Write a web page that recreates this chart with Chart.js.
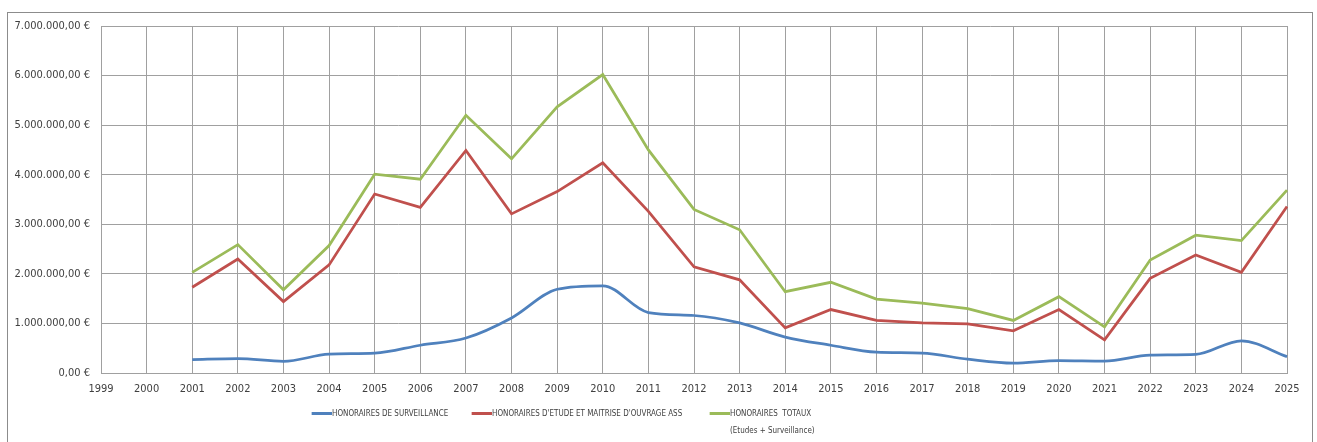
<!DOCTYPE html>
<html>
<head>
<meta charset="utf-8">
<script src="https://cdn.jsdelivr.net/npm/chart.js@4.4.1/dist/chart.umd.min.js"></script>
<style>
    html, body { margin: 0; padding: 0; background: #fff; }
    #wrap { position: relative; width: 1317px; height: 442px; overflow: hidden; }
    #frame {
        position: absolute; left: 7px; top: 12px; width: 1306px; height: 440px;
        border: 1px solid #8c8c8c; box-sizing: border-box;
    }
    canvas { position: absolute; left: 0; top: 0; }
    .legend-item {
        position: absolute; font-family: "DejaVu Sans Condensed", "Liberation Sans Narrow", sans-serif;
        font-size: 9px; color: #404040; white-space: pre; line-height: 17px;
        transform: scaleX(0.885); transform-origin: left top;
    }
    .legend-item .swatch {
        position: absolute; left: -23px; top: 7px; width: 23px; height: 3px;
    }
</style>
</head>
<body>
<div id="wrap">
    <div id="frame"></div>
    <canvas id="chart" width="1317" height="442"></canvas>
    <div id="legend"></div>
</div>
<script>
const years = ["1999", "2000", "2001", "2002", "2003", "2004", "2005", "2006", "2007", "2008",
    "2009", "2010", "2011", "2012", "2013", "2014", "2015", "2016", "2017", "2018",
    "2019", "2020", "2021", "2022", "2023", "2024", "2025"];

// valeurs en euros
const surveillance = [null, null, 270000, 290000, 235000, 380000, 400000, 560000, 705000, 1110000,
    1690000, 1760000, 1220000, 1160000, 1010000, 725000, 560000, 420000, 400000, 280000,
    200000, 250000, 240000, 360000, 375000, 650000, 330000];
const etudes = [null, null, 1730000, 2300000, 1440000, 2180000, 3610000, 3340000, 4490000, 3210000,
    3660000, 4240000, 3260000, 2140000, 1880000, 910000, 1280000, 1060000, 1010000, 990000,
    850000, 1280000, 670000, 1910000, 2380000, 2030000, 3360000];
const totaux = [null, null, 2030000, 2590000, 1680000, 2570000, 4010000, 3910000, 5200000, 4320000,
    5370000, 6020000, 4500000, 3300000, 2890000, 1640000, 1830000, 1490000, 1410000, 1300000,
    1060000, 1540000, 930000, 2280000, 2780000, 2670000, 3690000];

const seriesLabels = ["HONORAIRES DE SURVEILLANCE", "HONORAIRES D'ETUDE ET MAITRISE D'OUVRAGE ASS", "HONORAIRES  TOTAUX"];
const seriesColors = ["#4f81bd", "#c0504d", "#9bbb59"];
const totalNote = "(Etudes + Surveillance)";

function formatEuro(v) {
    const parts = v.toFixed(2).split(".");
    const ent = parts[0].replace(/\B(?=(\d{3})+(?!\d))/g, ".");
    return ent + "," + parts[1] + " €";
}

const tickFont = { family: "'DejaVu Sans Condensed', 'Liberation Sans Narrow', sans-serif", size: 11 };

new Chart(document.getElementById("chart").getContext("2d"), {
    type: 'line',
    data: {
        labels: years,
        datasets: [
            { label: seriesLabels[0], data: surveillance, borderColor: seriesColors[0], cubicInterpolationMode: 'monotone' },
            { label: seriesLabels[1], data: etudes, borderColor: seriesColors[1], tension: 0 },
            { label: seriesLabels[2], data: totaux, borderColor: seriesColors[2], tension: 0 }
        ].map(ds => Object.assign(ds, { borderWidth: 2.75, pointRadius: 0, fill: false }))
    },
    options: {
        responsive: false,
        animation: false,
        layout: { padding: { left: 0, top: 26, right: 30, bottom: 0 } },
        plugins: { legend: { display: false }, tooltip: { enabled: false } },
        scales: {
            x: {
                grid: { color: '#a0a0a0', drawTicks: false },
                border: { color: '#a0a0a0' },
                ticks: { color: '#404040', font: tickFont, padding: 10, maxRotation: 0, autoSkip: false },
                afterFit: scale => { scale.height = 69; }
            },
            y: {
                min: 0,
                max: 7000000,
                grid: { color: '#a0a0a0', drawTicks: false },
                border: { color: '#a0a0a0' },
                ticks: { stepSize: 1000000, color: '#404040', font: tickFont, padding: 11, callback: v => formatEuro(v) },
                afterFit: scale => { scale.width = 101; }
            }
        }
    }
});

// legende
const legendPos = [{ x: 332, y: 405 }, { x: 492, y: 405 }, { x: 730, y: 405 }];
const legend = document.getElementById("legend");
seriesLabels.forEach((label, i) => {
    const item = document.createElement("div");
    item.className = "legend-item";
    item.style.left = legendPos[i].x + "px";
    item.style.top = legendPos[i].y + "px";
    item.textContent = i === 2 ? label + "\n" + totalNote : label;
    const sw = document.createElement("span");
    sw.className = "swatch";
    sw.style.background = seriesColors[i];
    item.appendChild(sw);
    legend.appendChild(item);
});
</script>
</body>
</html>
